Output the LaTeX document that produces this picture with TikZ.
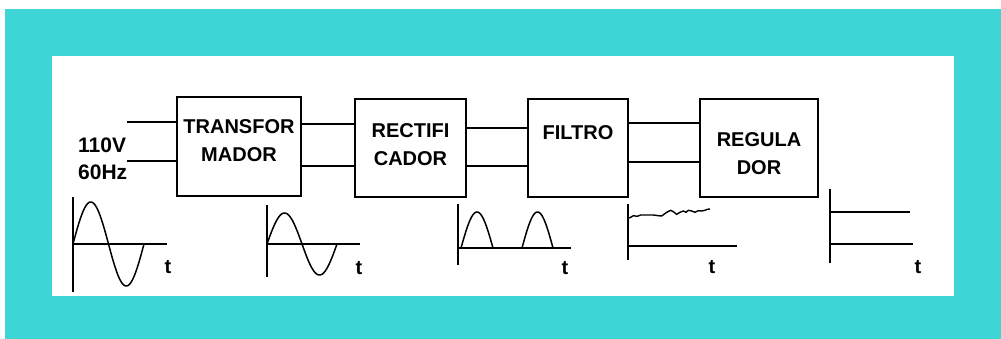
\documentclass[tikz,border=0pt]{standalone}
\usepackage{fontspec}
\setmainfont{Liberation Sans}
\definecolor{cyanbg}{RGB}{61,213,213}
\begin{document}
\begin{tikzpicture}[x=1pt,y=-1pt,
  box/.style={draw=black, line width=1.6pt, inner sep=0pt},
  lbl/.style={font=\bfseries\fontsize{20}{28}\selectfont, align=center, inner sep=0pt},
  inlbl/.style={font=\bfseries\fontsize{21}{28}\selectfont, inner sep=0pt},
  wire/.style={line width=1.6pt},
  ax/.style={line width=1.8pt},
  wave/.style={line width=1.5pt},
  tlbl/.style={font=\bfseries\fontsize{20}{24}\selectfont, inner sep=0pt}]
\useasboundingbox (0,0) rectangle (1001,339);
\fill[white] (0,0) rectangle (1001,339);
\fill[cyanbg] (5,9) rectangle (1001,339);
\fill[white] (52,56) rectangle (954,296);

% blocks
\node[box, minimum width=124pt, minimum height=99pt,
  label={[lbl,yshift=5.5pt]center:TRANSFOR\\MADOR}] (tr) at (239,146.5) {};
\node[box, minimum width=111pt, minimum height=98pt,
  label={[lbl,yshift=3pt]center:RECTIFI\\CADOR}] (rc) at (410.5,148) {};
\node[box, minimum width=100pt, minimum height=98pt,
  label={[lbl,yshift=15.3pt]center:FILTRO}] (fl) at (578,148) {};
\node[box, minimum width=118pt, minimum height=98pt,
  label={[lbl,yshift=-6pt]center:REGULA\\DOR}] (rg) at (759,148) {};

% input
\node[inlbl, anchor=west] (v) at (78,145) {110V};
\node[inlbl, anchor=west] (hz) at (78,172) {60Hz};
\coordinate (ia) at (127,122);
\coordinate (ib) at (127,161);
\draw[wire] (ia) -- (ia -| tr.west);
\draw[wire] (ib) -- (ib -| tr.west);

% connectors
\draw[wire] ([yshift=22.5pt]tr.east) -- ([yshift=24pt]rc.west);
\draw[wire] ([yshift=-19.5pt]tr.east) -- ([yshift=-18pt]rc.west);
\draw[wire] ([yshift=20pt]rc.east) -- ([yshift=20pt]fl.west);
\draw[wire] ([yshift=-18pt]rc.east) -- ([yshift=-18pt]fl.west);
\draw[wire] ([yshift=25pt]fl.east) -- ([yshift=25pt]rg.west);
\draw[wire] ([yshift=-14pt]fl.east) -- ([yshift=-14pt]rg.west);

% waveform 1
\draw[ax] (73,197) -- (73,292);
\draw[ax] (73,244) -- (167,244);
\draw[wave] plot[variable=\t, domain=0:1, samples=80, smooth] ({73+71*\t},{244-42*sin(360*\t)});
\node[tlbl] (t1) at (168,267) {t};

% waveform 2
\draw[ax] (267,205) -- (267,277);
\draw[ax] (267,244) -- (360,244);
\draw[wave] plot[variable=\t, domain=0:1, samples=80, smooth] ({267+70*\t},{244-31*sin(360*\t)});
\node[tlbl] (t2) at (359,268) {t};

% waveform 3
\draw[ax] (458,204) -- (458,265);
\draw[ax] (458,248) -- (571,248);
\draw[wave] plot[variable=\t, domain=0:1, samples=40, smooth] ({461+32*\t},{248-36*sin(180*\t)});
\draw[wave] plot[variable=\t, domain=0:1, samples=40, smooth] ({522+31*\t},{248-36*sin(180*\t)});
\node[tlbl] (t3) at (565,268) {t};

% waveform 4
\draw[ax] (628,204) -- (628,260);
\draw[ax] (628,246) -- (737,246);
\draw[line width=1.4pt] (628,218) -- (630,217.7) -- (633.3,215.7) -- (637.3,216.3) -- (640.7,215) -- (646.7,215)
  -- (653.3,215) -- (658.3,215.7) -- (661.7,216) -- (666.7,212.3) -- (670.7,210.3) -- (673.3,211.7)
  -- (676.7,214.3) -- (680,212.3) -- (683.3,211) -- (686,212.3) -- (688.3,210.3) -- (691.7,211)
  -- (695,212.3) -- (698.3,210.7) -- (701.7,211) -- (705,210.3) -- (707.3,209.3) -- (710,209);
\node[tlbl] (t4) at (712,267) {t};

% waveform 5
\draw[ax] (830,189) -- (830,263);
\draw[ax] (830,212) -- (910,212);
\draw[ax] (830,244) -- (913,244);
\node[tlbl] (t5) at (918,267) {t};
\end{tikzpicture}
\end{document}
